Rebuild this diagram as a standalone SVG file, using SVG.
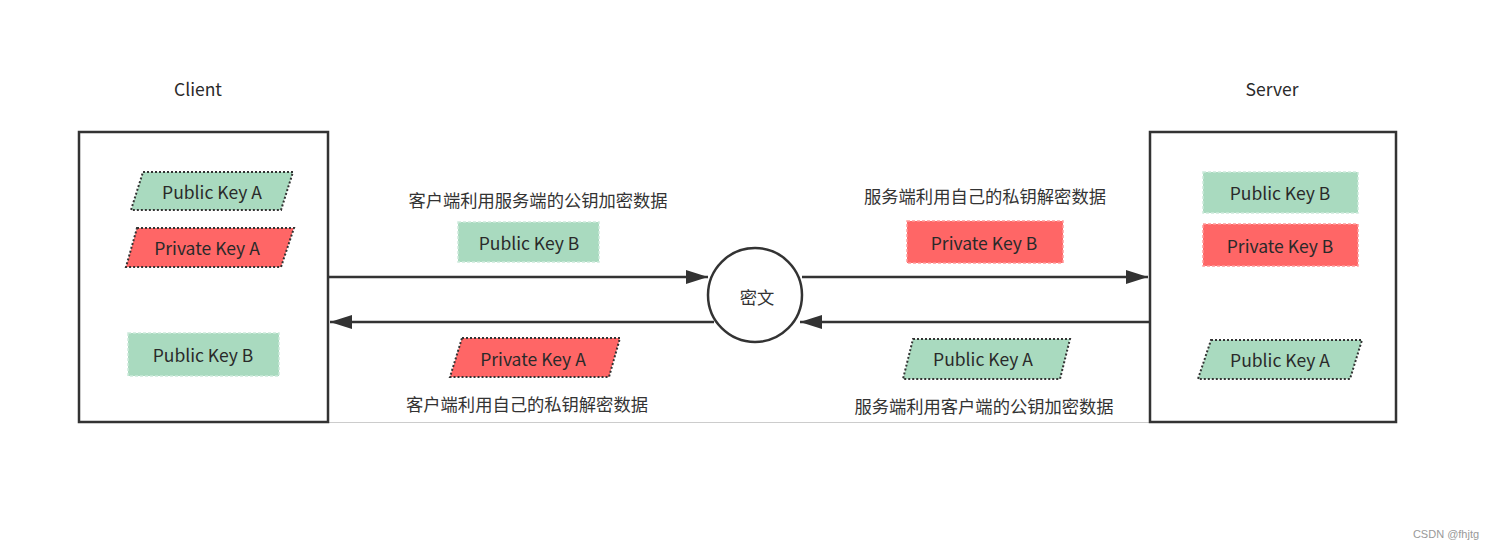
<svg xmlns="http://www.w3.org/2000/svg" width="1491" height="550" viewBox="0 0 1491 550">
<style>
text{font-family:"Noto Sans CJK SC","Noto Sans",sans-serif;fill:#2a2a2a;text-anchor:middle;dominant-baseline:central}
.lbl{font-size:17.5px}
.cn{font-size:17.3px;fill:#333}
.box{fill:#fff;stroke:#333;stroke-width:2.5}
.gpar{fill:#a9dabf;stroke:#333;stroke-width:2;stroke-dasharray:2 2}
.rpar{fill:#ff6666;stroke:#333;stroke-width:2;stroke-dasharray:2 2}
.grect{fill:#a9dabf;stroke:#cdeadb;stroke-width:1.5;stroke-dasharray:3 2}
.rrect{fill:#ff6666;stroke:#ff9a9a;stroke-width:1.5;stroke-dasharray:3 2}
.conn{stroke:#333;stroke-width:2.5;fill:none;marker-end:url(#ah)}
</style>
<defs>
<marker id="ah" markerUnits="userSpaceOnUse" markerWidth="22" markerHeight="14" refX="22" refY="7" orient="auto">
<path d="M0,0 L22,7 L0,14 z" fill="#333"/>
</marker>
</defs>
<rect width="1491" height="550" fill="#fff"/>
<line x1="328" y1="422.5" x2="1150" y2="422.5" stroke="#cccccc" stroke-width="1"/>
<text class="lbl" x="198" y="88">Client</text>
<text class="lbl" x="1272" y="88">Server</text>

<g id="client">
<rect class="box" x="79" y="132" width="249" height="290"/>
</g>
<g id="server">
<rect class="box" x="1150" y="132" width="246" height="290"/>
</g>

<g id="client-public-key-a">
<polygon class="gpar" points="143,172 293,172 281,210 131,210"/>
<text class="lbl" x="212" y="191">Public Key A</text>
</g>
<g id="client-private-key-a">
<polygon class="rpar" points="137,228 294,228 281,267 126,267"/>
<text class="lbl" x="207" y="247">Private Key A</text>
</g>
<g id="client-public-key-b">
<rect class="grect" x="128" y="333" width="151" height="43"/>
<text class="lbl" x="203" y="354">Public Key B</text>
</g>

<g id="server-public-key-b">
<rect class="grect" x="1203" y="172" width="155" height="41"/>
<text class="lbl" x="1280" y="192">Public Key B</text>
</g>
<g id="server-private-key-b">
<rect class="rrect" x="1203" y="224" width="155" height="42"/>
<text class="lbl" x="1280" y="245">Private Key B</text>
</g>
<g id="server-public-key-a">
<polygon class="gpar" points="1211,340 1362,340 1350,379 1198,379"/>
<text class="lbl" x="1280" y="359">Public Key A</text>
</g>

<g id="cipher">
<circle cx="755" cy="295" r="47" fill="#fff" stroke="#333" stroke-width="2.5"/>
<text class="cn" x="757" y="296">密文</text>
</g>

<g id="mid-public-key-b">
<rect class="grect" x="458" y="222" width="141" height="40"/>
<text class="lbl" x="529" y="242">Public Key B</text>
</g>
<g id="mid-private-key-b">
<rect class="rrect" x="907" y="221" width="156" height="42"/>
<text class="lbl" x="984" y="242">Private Key B</text>
</g>
<g id="mid-private-key-a">
<polygon class="rpar" points="462,338 620,338 609,377 450,377"/>
<text class="lbl" x="533" y="358">Private Key A</text>
</g>
<g id="mid-public-key-a">
<polygon class="gpar" points="913,339 1070,339 1060,379 903,379"/>
<text class="lbl" x="983" y="358">Public Key A</text>
</g>

<text class="cn" x="538" y="199">客户端利用服务端的公钥加密数据</text>
<text class="cn" x="985" y="195">服务端利用自己的私钥解密数据</text>
<text class="cn" x="527" y="403">客户端利用自己的私钥解密数据</text>
<text class="cn" x="984" y="405">服务端利用客户端的公钥加密数据</text>

<g id="connectors">
<line class="conn" x1="328" y1="277" x2="708" y2="277"/>
<line class="conn" x1="802" y1="277" x2="1148" y2="277"/>
<line class="conn" x1="1150" y1="322" x2="800" y2="322"/>
<line class="conn" x1="714" y1="322" x2="330" y2="322"/>
</g>

<text x="1446" y="534" style="font-family:'Liberation Sans',sans-serif;font-size:11px;fill:#999">CSDN @fhjtg</text>
</svg>
